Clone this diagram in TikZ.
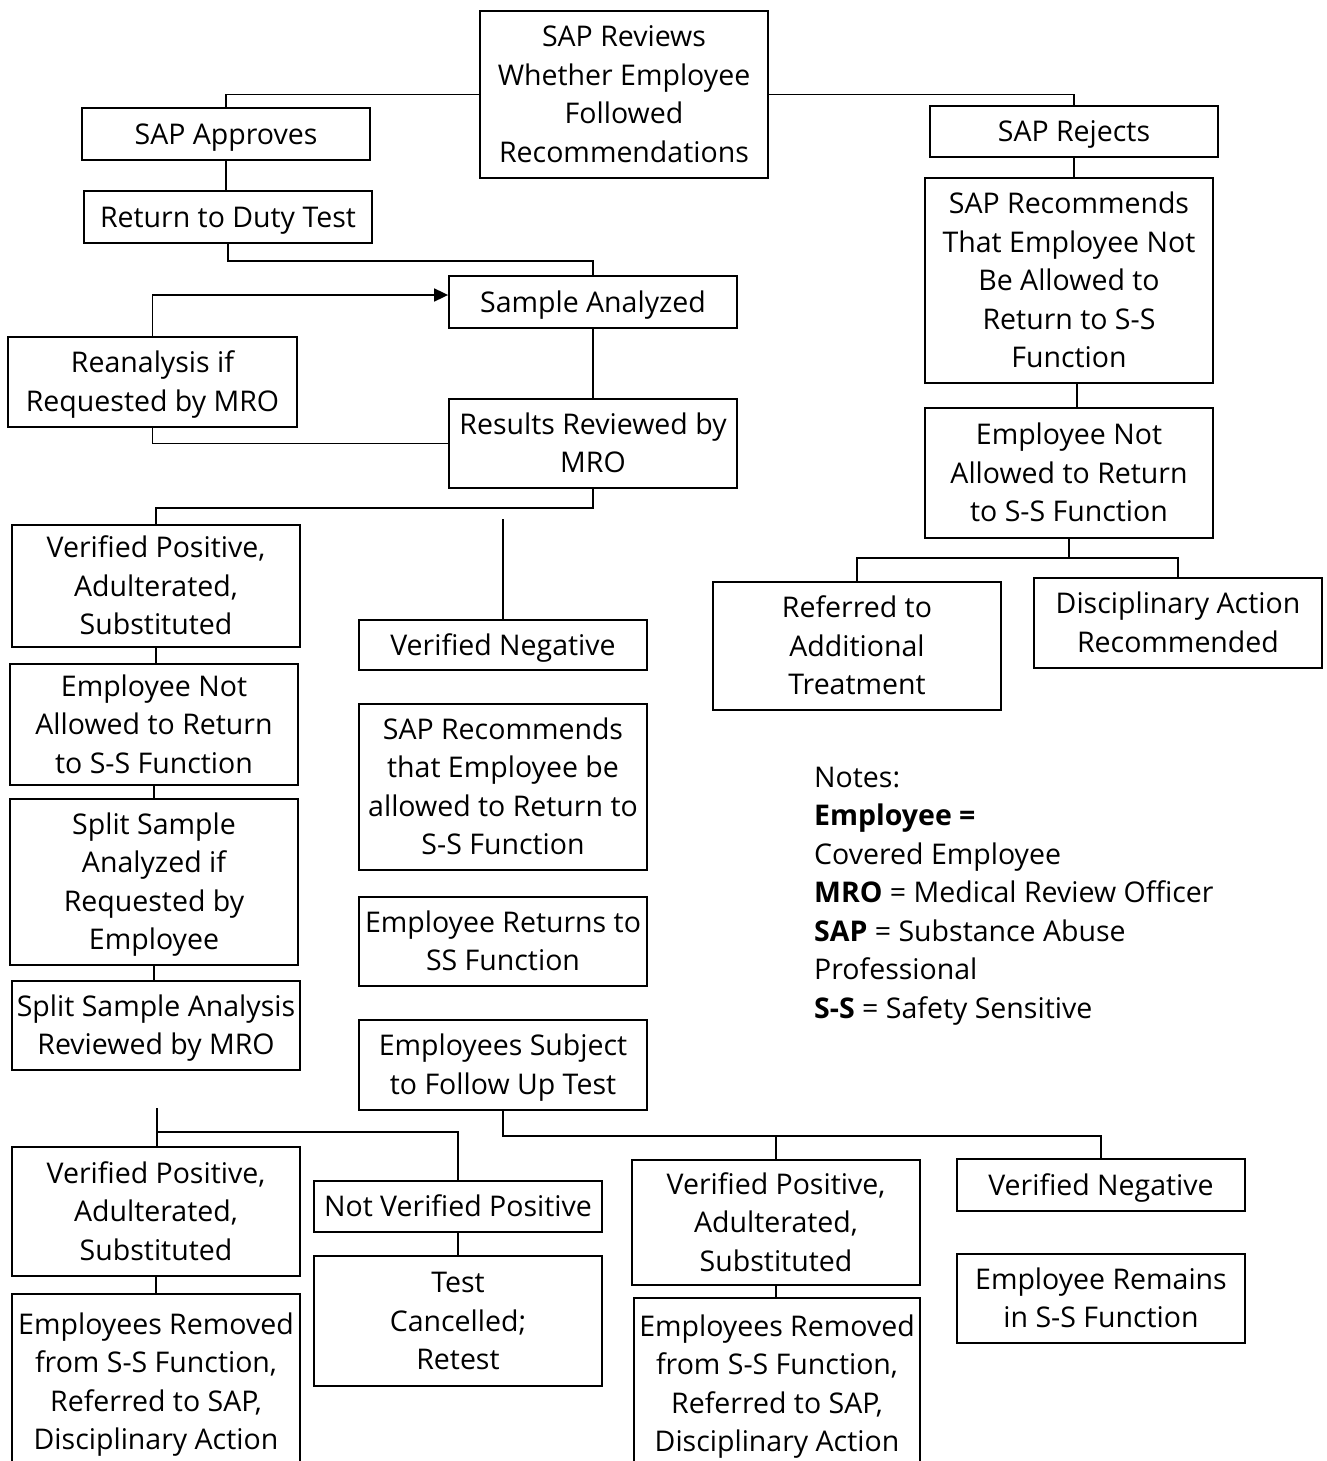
\documentclass[tikz,border=0pt]{standalone}
\usepackage{fontspec}
\setmainfont{Open Sans}
\usetikzlibrary{arrows.meta}
\newcommand\mystrut{\vrule height 28.35pt depth 8pt width 0pt\relax}
\newcommand\bx[1]{\mystrut#1\mystrut}
\begin{document}
\begin{tikzpicture}[x=1pt,y=-1pt,
  txt/.style={font=\fontsize{28.5}{38.5}\selectfont},
  box/.style={txt, draw, line width=1.8pt, rectangle, align=center, inner sep=0pt, minimum width=288pt},
  conn/.style={line width=1.8pt},
  arr/.style={line width=1.8pt, -{Triangle[length=14pt,width=13pt]}}]
\useasboundingbox (0,0) rectangle (1327,1461);
\clip (0,0) rectangle (1327,1461);
\fill[white] (0,0) rectangle (1327,1461);

\node[box, minimum height=167pt] (top) at (624,94.5) {\bx{SAP Reviews\\Whether Employee\\Followed\\Recommendations}};
\node[box, minimum height=52pt] (appr) at (226,134) {\bx{SAP Approves}};
\node[box, minimum height=52pt] (rtd) at (228,217) {\bx{Return to Duty Test}};
\node[box, minimum height=51pt] (rej) at (1074,131.5) {\bx{SAP Rejects}};
\node[box, minimum height=205pt] (srec) at (1069,280.5) {\bx{SAP Recommends\\That Employee Not\\Be Allowed to\\Return to S-S\\Function}};
\node[box, minimum height=130pt] (enar) at (1069,473) {\bx{Employee Not\\Allowed to Return\\to S-S Function}};
\node[box, minimum height=128pt] (ref) at (857,646) {\bx{Referred to\\Additional\\Treatment}};
\node[box, minimum height=90pt] (disc) at (1178,623) {\bx{Disciplinary Action\\Recommended}};
\node[box, minimum height=52pt] (samp) at (593,302) {\bx{Sample Analyzed}};
\node[box, minimum height=90pt, minimum width=289pt] (rean) at (152.5,382) {\bx{Reanalysis if\\Requested by MRO}};
\node[box, minimum height=89pt] (res) at (593,443.5) {\bx{Results Reviewed by\\MRO}};
\node[box, minimum height=122pt] (vpl) at (156,586) {\bx{Verified Positive,\\Adulterated,\\Substituted}};
\node[box, minimum height=50pt] (vnm) at (503,645) {\bx{Verified Negative}};
\node[box, minimum height=121pt] (enal) at (154,724.5) {\bx{Employee Not\\Allowed to Return\\to S-S Function}};
\node[box, minimum height=166pt] (srecm) at (503,787) {\bx{SAP Recommends\\that Employee be\\allowed to Return to\\S-S Function}};
\node[box, minimum height=166pt] (split) at (154,882) {\bx{Split Sample\\Analyzed if\\Requested by\\Employee}};
\node[box, minimum height=89pt] (ret) at (503,941.5) {\bx{Employee Returns to\\SS Function}};
\node[box, minimum height=89pt] (ssr) at (156,1025.5) {\bx{Split Sample Analysis\\Reviewed by MRO}};
\node[box, minimum height=90pt] (subj) at (503,1065) {\bx{Employees Subject\\to Follow Up Test}};
\node[box, minimum height=129pt] (vpb) at (156,1211.5) {\bx{Verified Positive,\\Adulterated,\\Substituted}};
\node[box, minimum height=51pt] (nvp) at (458,1206.5) {\bx{Not Verified Positive}};
\node[box, minimum height=130pt] (tc) at (458,1321) {\bx{Test\\Cancelled;\\Retest}};
\node[box, minimum height=176pt] (erl) at (156,1382) {\bx{Employees Removed\\from S-S Function,\\Referred to SAP,\\Disciplinary Action}};
\node[box, minimum height=125pt] (vpr) at (776,1222.5) {\bx{Verified Positive,\\Adulterated,\\Substituted}};
\node[box, minimum height=172pt, minimum width=286pt] (err) at (777,1384) {\bx{Employees Removed\\from S-S Function,\\Referred to SAP,\\Disciplinary Action}};
\node[box, minimum height=52pt] (vnr) at (1101,1185) {\bx{Verified Negative}};
\node[box, minimum height=89pt] (rem) at (1101,1298.5) {\bx{Employee Remains\\in S-S Function}};

\node[txt, anchor=north west, align=left, inner sep=0pt] (notes) at (814,758.5)
  {\bx{Notes:\\\textbf{Employee =}\\Covered Employee\\\textbf{MRO} = Medical Review Officer\\\textbf{SAP} = Substance Abuse\\Professional\\\textbf{S-S} = Safety Sensitive}};

% connectors
\draw[conn] (top.west) -| (appr.north);
\draw[conn] (top.east) -| (rej.north);
\draw[conn] (appr.south) -- (appr.south |- rtd.north);
\draw[conn] (rtd.south) -- ++(0,17) -| (samp.north);
\draw[arr] (rean.north) |- ([yshift=7pt]samp.west);
\draw[conn] (samp.south) -- (res.north);
\draw[conn] (res.west) -| (rean.south);
\draw[conn] (res.south) -- ++(0,19) -| (vpl.north);
\coordinate (f1) at (503,519);
\draw[conn] (f1) -- (vnm.north);
\draw[conn] (vpl.south) -- (vpl.south |- enal.north);
\draw[conn] (enal.south) -- (enal.south |- split.north);
\draw[conn] (split.south) -- (split.south |- ssr.north);
\coordinate (f2) at (157,1108);
\coordinate (j2) at (157,1132);
\draw[conn] (f2) -- (f2 |- vpb.north);
\draw[conn] (j2) -| (nvp.north);
\draw[conn] (nvp.south) -- (tc.north);
\draw[conn] (vpb.south) -- (erl.north);
\draw[conn] (subj.south) -- ++(0,25) coordinate (j3) -| (vnr.north);
\draw[conn] (vpr.north |- j3) -- (vpr.north);
\draw[conn] (vpr.south) -- (vpr.south |- err.north);
\draw[conn] (rej.south) -- (rej.south |- srec.north);
\draw[conn] ([xshift=8pt]srec.south) -- ([xshift=8pt]srec.south |- enar.north);
\draw[conn] (enar.south) -- ++(0,19) coordinate (j4);
\draw[conn] (ref.north) -- (ref.north |- j4) -- (disc.north |- j4) -- (disc.north);
\end{tikzpicture}
\end{document}
